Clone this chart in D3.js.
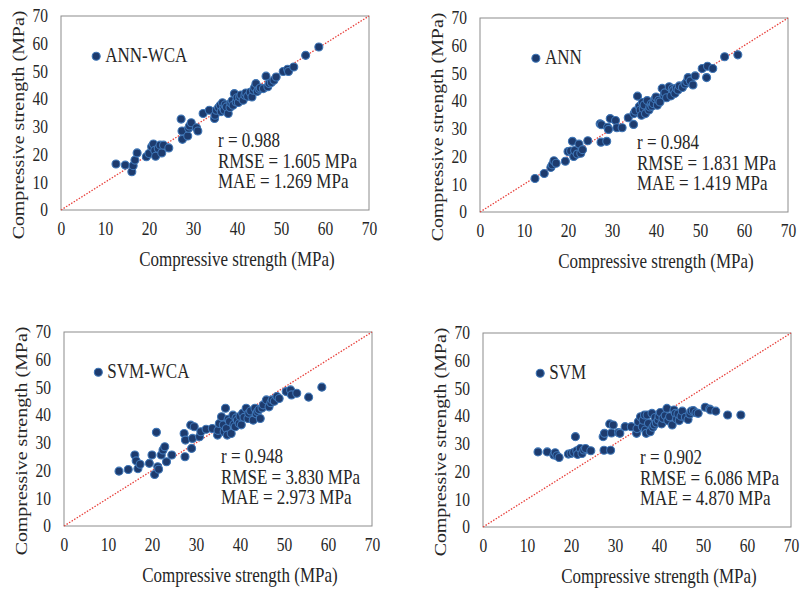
<!DOCTYPE html>
<html>
<head>
<meta charset="utf-8">
<script src="https://cdn.jsdelivr.net/npm/d3@7"></script>
<style>
body { margin: 0; background: #fff; }
svg { display: block; }
</style>
</head>
<body>
<div id="chart"></div>
<script>
// measured compressive strength (MPa), shared by all four panels
const actual = [12.5, 14.6, 16.1, 16.4, 16.8, 17.3, 19.4, 20.0, 20.6, 21.0, 21.3, 21.5, 22.1, 22.5, 22.9,
	23.3, 24.5, 27.3, 27.5, 27.6, 28.8, 29.0, 29.2, 29.6, 30.8, 31.1, 32.3, 33.7, 34.9, 35.0, 35.3, 35.8,
	36.2, 36.4, 36.7, 36.9, 37.1, 37.3, 37.6, 38.0, 38.4, 38.6, 38.9, 39.1, 39.4, 39.8, 40.0, 40.3, 40.6,
	40.9, 41.4, 41.8, 42.0, 42.4, 43.0, 43.4, 43.7, 44.0, 44.3, 44.6, 45.0, 45.3, 46.0, 46.6, 47.0, 47.3,
	47.8, 48.4, 48.9, 50.5, 51.5, 51.7, 52.9, 55.6, 58.6]

// predicted strength for each model
const annWca = [16.6, 16.2, 13.8, 16.0, 18.0, 20.6, 19.2, 20.4, 22.8, 23.8, 21.5, 19.4, 22.2, 23.4, 20.6,
	23.4, 22.4, 32.8, 28.5, 25.5, 26.7, 29.5, 30.3, 31.5, 29.7, 28.5, 34.8, 36.0, 33.0, 34.2, 36.0, 37.0,
	37.8, 35.5, 38.7, 36.6, 36.0, 38.0, 37.2, 34.8, 37.0, 38.6, 39.4, 37.8, 42.0, 39.0, 40.5, 38.8, 40.8,
	41.5, 39.6, 41.4, 42.2, 41.0, 42.5, 40.8, 43.2, 44.2, 45.6, 42.8, 43.6, 44.0, 43.8, 48.3, 44.5, 45.6,
	46.0, 46.8, 48.0, 50.0, 50.8, 50.0, 51.6, 55.8, 58.8]

const ann = [12.1, 13.9, 16.1, 17.0, 18.5, 17.6, 18.3, 21.8, 22.0, 25.5, 20.0, 22.2, 20.9, 24.5, 21.2,
	22.5, 25.7, 31.8, 25.2, 31.5, 25.5, 30.6, 29.8, 33.7, 33.0, 30.4, 30.4, 34.0, 31.6, 35.5, 36.4, 41.8,
	38.1, 36.8, 34.9, 39.5, 37.3, 38.6, 35.5, 40.2, 36.8, 37.9, 39.0, 38.2, 39.1, 40.8, 41.5, 38.5, 40.3,
	39.7, 44.6, 42.1, 43.0, 41.2, 45.2, 41.9, 44.5, 43.9, 42.8, 44.6, 44.0, 45.5, 44.9, 46.2, 47.0, 48.5,
	47.3, 45.8, 49.1, 51.8, 48.5, 52.6, 51.8, 56.0, 56.7]

const svmWca = [19.8, 20.4, 25.6, 23.5, 20.7, 22.3, 22.6, 25.6, 18.6, 33.8, 21.4, 20.5, 25.6, 27.4, 28.6,
	23.2, 25.6, 33.4, 25.0, 31.0, 36.4, 28.0, 31.6, 35.8, 32.2, 34.0, 34.9, 35.2, 32.8, 34.5, 37.0, 39.4,
	36.5, 34.0, 42.5, 35.2, 32.8, 38.5, 37.7, 33.4, 40.0, 36.6, 35.8, 39.0, 38.2, 37.0, 39.6, 36.5, 40.7,
	39.2, 42.5, 38.8, 40.7, 41.5, 38.2, 42.5, 40.5, 41.3, 42.0, 38.8, 42.6, 43.7, 45.5, 43.0, 44.5, 45.5,
	45.0, 46.7, 46.0, 48.5, 49.1, 47.3, 47.9, 46.5, 50.1]

const svm = [27.1, 27.1, 26.0, 26.8, 25.7, 25.1, 26.3, 26.5, 26.9, 32.6, 27.5, 26.2, 28.3, 26.5, 27.8,
	28.3, 27.5, 32.6, 27.7, 33.8, 37.2, 27.7, 33.9, 36.8, 34.1, 33.8, 36.2, 36.2, 33.8, 35.5, 38.0, 39.8,
	36.2, 38.5, 40.4, 35.0, 33.8, 40.4, 37.4, 34.4, 41.0, 36.0, 36.8, 39.5, 37.5, 38.6, 40.0, 41.3, 37.2,
	39.2, 40.2, 42.8, 38.4, 39.8, 36.8, 42.2, 41.0, 39.0, 40.8, 38.4, 40.0, 41.8, 39.6, 38.8, 40.8, 41.8,
	42.0, 41.2, 41.0, 43.2, 42.6, 42.2, 41.8, 40.4, 40.4]

const ticks = [0, 10, 20, 30, 40, 50, 60, 70]
const models = ['ANN-WCA', 'ANN', 'SVM-WCA', 'SVM']
const rValues = ['0.988', '0.984', '0.948', '0.902']
const rmseValues = ['1.605', '1.831', '3.830', '6.086']
const maeValues = ['1.269', '1.419', '2.973', '4.870']
const predictions = [annWca, ann, svmWca, svm]

// frame of each panel on the page, and where its legend dot sits (data units)
const frames = [
	{ left: 61, top: 16, legend: [8, 55.5] },
	{ left: 480, top: 18, legend: [12.7, 55.5] },
	{ left: 64, top: 332, legend: [7.8, 55.5] },
	{ left: 483, top: 333, legend: [13, 55.5] }
]
const w = 308
const h = 194
const stretch = 1.17
const serif = '"Liberation Serif", "Times New Roman", serif'
const ink = '#262626'

const svg = d3.select('#chart')
	.append('svg')
	.attr('width', 802)
	.attr('height', 591)
	.attr('font-family', serif)

// text drawn a little taller than wide, like the source picture
function label(g, x, y, str, size, anchor, rot) {
	return g.append('text')
		.attr('transform', `translate(${x},${y}) scale(1,${stretch})` + (rot ? ' rotate(-90)' : ''))
		.attr('text-anchor', anchor)
		.attr('font-size', size)
		.attr('fill', ink)
		.text(str)
}

models.forEach((name, i) => {
	const f = frames[i]
	const pred = predictions[i]
	const data = actual.map((a, k) => ({ a: a, p: pred[k] }))

	const g = svg.append('g')
		.attr('transform', `translate(${f.left},${f.top})`)

	const xScale = d3.scaleLinear().domain([0, 70]).range([0, w])
	const yScale = d3.scaleLinear().domain([0, 70]).range([h, 0])

	g.append('rect')
		.attr('width', w)
		.attr('height', h)
		.attr('fill', 'none')
		.attr('stroke', '#8c8c8c')
		.attr('stroke-width', 1)

	g.append('g')
		.attr('transform', `translate(0,${h})`)
		.call(d3.axisBottom(xScale).tickValues(ticks).tickSize(0).tickPadding(10))
		.call(a => a.select('.domain').remove())
		.selectAll('text')
		.attr('font-family', serif)
		.attr('font-size', 15.5)
		.attr('fill', ink)
		.attr('transform', `scale(1,${stretch})`)

	g.append('g')
		.call(d3.axisLeft(yScale).tickValues(ticks).tickSize(0).tickPadding(13))
		.call(a => a.select('.domain').remove())
		.selectAll('text')
		.attr('font-family', serif)
		.attr('font-size', 15.5)
		.attr('fill', ink)
		.attr('transform', `scale(1,${stretch})`)

	g.append('line')
		.attr('x1', xScale(0))
		.attr('y1', yScale(0))
		.attr('x2', xScale(70))
		.attr('y2', yScale(70))
		.attr('stroke', '#e8413c')
		.attr('stroke-width', 1.3)
		.attr('stroke-dasharray', '1.5,1.5')

	g.selectAll('circle.pt')
		.data(data)
		.join('circle')
		.attr('class', 'pt')
		.attr('cx', d => xScale(d.a))
		.attr('cy', d => yScale(d.p))
		.attr('r', 4)
		.attr('fill', '#1d3b6e')
		.attr('stroke', '#3f76b6')
		.attr('stroke-width', 1.1)

	// legend
	const lx = xScale(f.legend[0])
	const ly = yScale(f.legend[1])
	g.append('circle')
		.attr('cx', lx)
		.attr('cy', ly)
		.attr('r', 4)
		.attr('fill', '#1d3b6e')
		.attr('stroke', '#3f76b6')
		.attr('stroke-width', 1.1)
	label(g, lx + 9, ly + 5.5, name, 17, 'start')

	label(g, 157, 131, 'r = ' + rValues[i], 17, 'start')
	label(g, 157, 151.5, 'RMSE = ' + rmseValues[i] + ' MPa', 17, 'start')
	label(g, 157, 172, 'MAE = ' + maeValues[i] + ' MPa', 17, 'start')

	label(g, w / 2 + 22, h + 56, 'Compressive strength (MPa)', 17, 'middle')
	label(g, -37, h / 2 + 12, 'Compressive strength (MPa)', 17, 'middle', true)
})
</script>
</body>
</html>
